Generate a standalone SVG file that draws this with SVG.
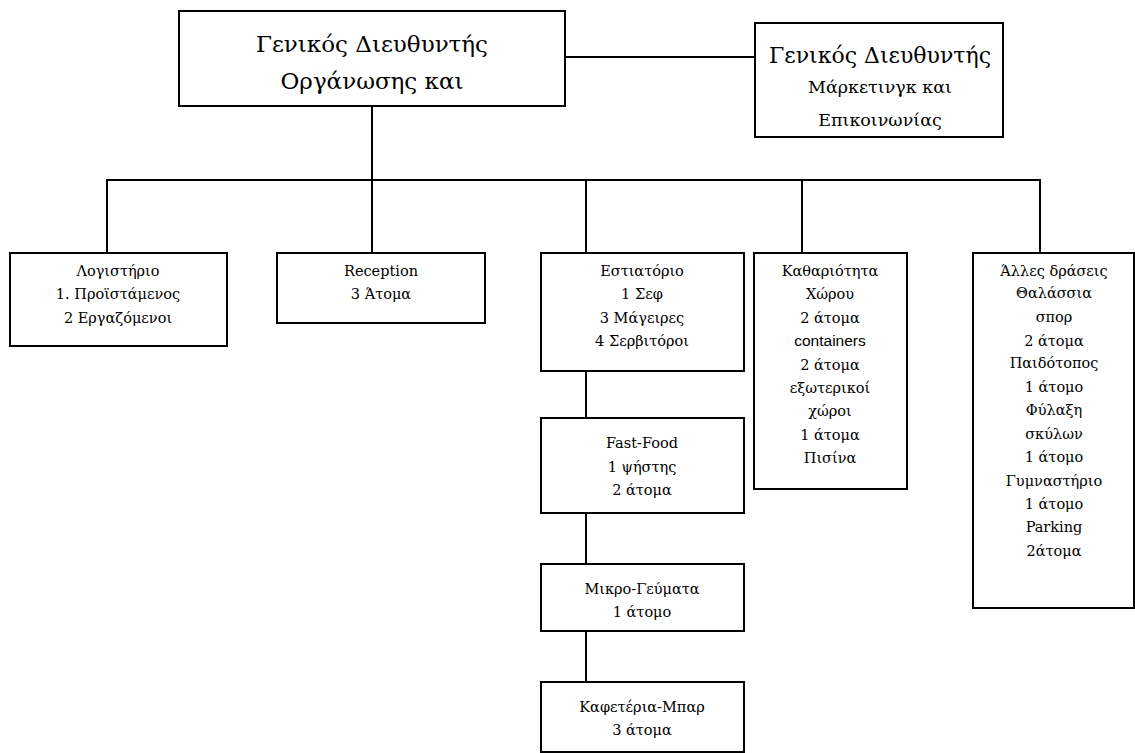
<svg xmlns="http://www.w3.org/2000/svg" width="1135" height="753" viewBox="0 0 1135 753">
<style>
  .box{fill:#fff;stroke:#000;stroke-width:2}
  .ln{stroke:#000;stroke-width:2;fill:none}
  text{font-family:"DejaVu Serif","Liberation Serif","Times New Roman",serif;fill:#000;text-anchor:middle}
  .s{font-size:14.5px}
  .sans{font-family:"Liberation Sans",Arial,sans-serif;font-size:15.5px}
  .big{font-size:23px}
  .med{font-size:22px}
  .mid{font-size:17.5px}
</style>
<rect width="1135" height="753" fill="#fff"/>
<g id="connectors">
  <line class="ln" x1="565" y1="57" x2="755" y2="57"/>
  <line class="ln" x1="372" y1="106" x2="372" y2="253"/>
  <polyline class="ln" points="107,253 107,180 1040,180 1040,253"/>
  <line class="ln" x1="586" y1="180" x2="586" y2="253"/>
  <line class="ln" x1="802" y1="180" x2="802" y2="253"/>
  <line class="ln" x1="586" y1="371" x2="586" y2="418"/>
  <line class="ln" x1="586" y1="513" x2="586" y2="564"/>
  <line class="ln" x1="586" y1="631" x2="586" y2="682"/>
</g>
<g id="gm-org">
  <rect class="box" x="179" y="11" width="386" height="95"/>
  <text class="big" x="372" y="52">Γενικός Διευθυντής</text>
  <text class="big" x="372" y="89">Οργάνωσης και</text>
</g>
<g id="gm-marketing">
  <rect class="box" x="755" y="23" width="248" height="114"/>
  <text class="med" x="880" y="63">Γενικός Διευθυντής</text>
  <text class="mid" x="880" y="93">Μάρκετινγκ και</text>
  <text class="mid" x="880" y="126">Επικοινωνίας</text>
</g>
<g id="accounting">
  <rect class="box" x="10" y="253" width="217" height="93"/>
  <text class="s" x="118" y="276">Λογιστήριο</text>
  <text class="s" x="118" y="299">1. Προϊστάμενος</text>
  <text class="s" x="118" y="323">2 Εργαζόμενοι</text>
</g>
<g id="reception">
  <rect class="box" x="277" y="253" width="208" height="70"/>
  <text class="s" x="381" y="276">Reception</text>
  <text class="s" x="381" y="299">3 Άτομα</text>
</g>
<g id="restaurant">
  <rect class="box" x="541" y="253" width="203" height="118"/>
  <text class="s" x="642" y="276">Εστιατόριο</text>
  <text class="s" x="642" y="299">1 Σεφ</text>
  <text class="s" x="642" y="323">3 Μάγειρες</text>
  <text class="s" x="642" y="346">4 Σερβιτόροι</text>
</g>
<g id="cleaning">
  <rect class="box" x="754" y="253" width="153" height="236"/>
  <text class="s" x="830" y="276">Καθαριότητα</text>
  <text class="s" x="830" y="299">Χώρου</text>
  <text class="s" x="830" y="323">2 άτομα</text>
  <text class="sans" x="830" y="346">containers</text>
  <text class="s" x="830" y="370">2 άτομα</text>
  <text class="s" x="830" y="393">εξωτερικοί</text>
  <text class="s" x="830" y="416">χώροι</text>
  <text class="s" x="830" y="440">1 άτομα</text>
  <text class="s" x="830" y="463">Πισίνα</text>
</g>
<g id="other">
  <rect class="box" x="973" y="253" width="161" height="355"/>
  <text class="s" x="1054" y="276">Άλλες δράσεις</text>
  <text class="s" x="1054" y="298">Θαλάσσια</text>
  <text class="s" x="1054" y="322">σπορ</text>
  <text class="s" x="1054" y="346">2 άτομα</text>
  <text class="s" x="1054" y="368">Παιδότοπος</text>
  <text class="s" x="1054" y="392">1 άτομο</text>
  <text class="s" x="1054" y="415">Φύλαξη</text>
  <text class="s" x="1054" y="439">σκύλων</text>
  <text class="s" x="1054" y="462">1 άτομο</text>
  <text class="s" x="1054" y="486">Γυμναστήριο</text>
  <text class="s" x="1054" y="509">1 άτομο</text>
  <text class="s" x="1054" y="532">Parking</text>
  <text class="s" x="1054" y="556">2άτομα</text>
</g>
<g id="fastfood">
  <rect class="box" x="541" y="418" width="203" height="95"/>
  <text class="s" x="642" y="448">Fast-Food</text>
  <text class="s" x="642" y="472">1 ψήστης</text>
  <text class="s" x="642" y="495">2 άτομα</text>
</g>
<g id="snacks">
  <rect class="box" x="541" y="564" width="203" height="67"/>
  <text class="s" x="642" y="594">Μικρο-Γεύματα</text>
  <text class="s" x="642" y="617">1 άτομο</text>
</g>
<g id="cafe-bar">
  <rect class="box" x="541" y="682" width="203" height="70"/>
  <text class="s" x="642" y="712">Καφετέρια-Μπαρ</text>
  <text class="s" x="642" y="735">3 άτομα</text>
</g>
</svg>
